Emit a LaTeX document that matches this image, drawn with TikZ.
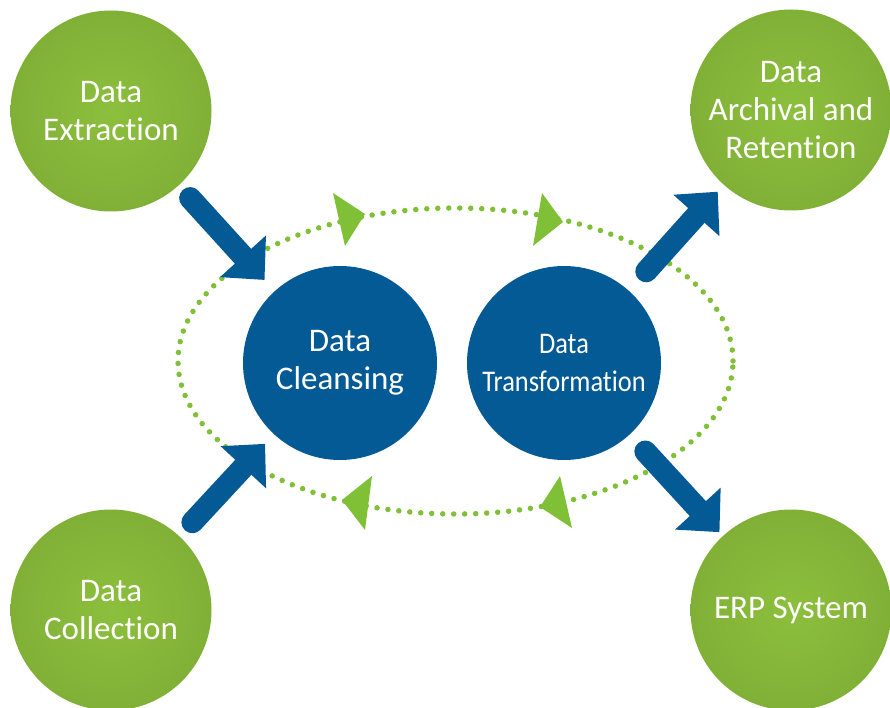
\documentclass[tikz,border=0pt]{standalone}
\usepackage{fontspec}
\setmainfont[Ligatures=NoCommon]{Carlito}
\newfontfamily\condfont[FakeStretch=0.88,Ligatures=NoCommon]{Carlito}
\usetikzlibrary{arrows.meta}
\definecolor{dblue}{HTML}{045A94}
\definecolor{lgreen}{HTML}{7FC036}
\pgfdeclareradialshading{greenball}{\pgfpoint{0bp}{0bp}}{rgb(0bp)=(0.55,0.75,0.24); rgb(50bp)=(0.46,0.63,0.19)}
\tikzset{
  greenc/.style={circle, minimum size=201pt, inner sep=0pt, shading=greenball, text=white, align=center, font=\fontsize{33}{38}\selectfont},
  bluec/.style={circle, minimum size=194pt, inner sep=0pt, fill=dblue, text=white, align=center, font=\fontsize{33}{38}\selectfont},
  bluearr/.style={draw=dblue, line width=22pt, line cap=round, -{Triangle[width=60pt,length=32pt]}},
  dotline/.style={draw=lgreen, line width=5.5pt, line cap=round, dash pattern=on 0pt off 11pt},
  tri/.style={fill=lgreen}
}
\begin{document}
\begin{tikzpicture}[x=1pt,y=-1pt]
\useasboundingbox (0,0) rectangle (890,708);
% dotted cycle
\draw[dotline] (455.5,361) ellipse [x radius=277.5pt, y radius=153pt];
\fill[tri] (333,193) -- (345,246) -- (365,214) -- cycle;
\fill[tri] (542,193) -- (533,246) -- (563,222) -- cycle;
\fill[tri] (372,476) -- (365,530) -- (342,500) -- cycle;
\fill[tri] (560,476) -- (572,528) -- (540,507) -- cycle;
% blue circles
\node[bluec] (cle) at (340,363) {Data\\Cleansing};
\node[bluec, font=\condfont\fontsize{30}{38}\selectfont] (trf) at (564,363) {Data\\Transformation};
% green circles
\node[greenc] (ext) at (111,111) {Data\\Extraction};
\node[greenc] (col) at (111,610) {Data\\Collection};
\node[greenc] (arc) at (791,110) {Data\\Archival and\\Retention};
\node[greenc] (erp) at (791,610) {ERP System};
% arrows
\draw[bluearr, shorten <=17pt, shorten >=15pt] (ext) -- (cle);
\draw[bluearr, shorten <=19pt, shorten >=13pt] (col) -- (cle);
\draw[bluearr, shorten <=26pt, shorten >=9pt] (trf) -- (arc);
\draw[bluearr, shorten <=23pt, shorten >=5pt] (trf) -- (erp);
\end{tikzpicture}
\end{document}
